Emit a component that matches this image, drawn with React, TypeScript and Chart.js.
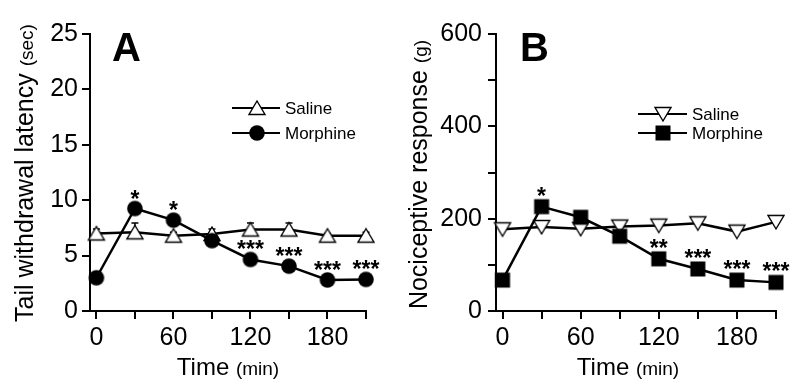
import React, { useEffect, useRef } from 'react';
import { Chart, registerables } from 'chart.js';

Chart.register(...registerables);

const FF = '"Liberation Sans", Arial, Helvetica, sans-serif';

// ---- data ----
const times = [0, 30, 60, 90, 120, 150, 180, 210];
const xTickValues = [0, 30, 60, 90, 120, 150, 180, 210];
const xTickLabels = ['0', '', '60', '', '120', '', '180', ''];
const seriesNames = ['Saline', 'Morphine'];

const latencySaline = [7.0, 7.1, 6.8, 6.95, 7.35, 7.35, 6.8, 6.8];
const latencySalineSem = [0.4, 0.85, 0.3, 0.45, 0.6, 0.6, 0.2, 0.3];
const latencyMorphine = [3.0, 9.25, 8.2, 6.35, 4.65, 4.05, 2.8, 2.85];
const latencySig = ['', '*', '*', '', '***', '***', '***', '***'];
const latencyYTicks = [0, 5, 10, 15, 20, 25];
const latencyYLabels = ['0', '5', '10', '15', '20', '25'];

const responseSaline = [177, 182, 178, 183, 185, 190, 172, 193];
const responseMorphine = [67, 226, 203, 162, 113, 91, 67, 62];
const responseSig = ['', '*', '', '', '**', '***', '***', '***'];
const responseYTicks = [0, 100, 200, 300, 400, 500, 600];
const responseYLabels = ['0', '', '200', '', '400', '', '600'];

type SymKind = 'triUp' | 'triDown' | 'circle' | 'square';

function makeSymbol(kind: SymKind): HTMLCanvasElement {
  const s = 22;
  const c = document.createElement('canvas');
  c.width = s;
  c.height = s;
  const ctx = c.getContext('2d')!;
  const m = s / 2;
  ctx.strokeStyle = '#000';
  ctx.lineWidth = 1.4;
  ctx.lineJoin = 'miter';
  if (kind === 'triUp') {
    ctx.beginPath();
    ctx.moveTo(m, m - 7);
    ctx.lineTo(m + 8, m + 6.5);
    ctx.lineTo(m - 8, m + 6.5);
    ctx.closePath();
    ctx.fillStyle = '#fff';
    ctx.fill();
    ctx.stroke();
  } else if (kind === 'triDown') {
    ctx.beginPath();
    ctx.moveTo(m, m + 7);
    ctx.lineTo(m + 8, m - 6.5);
    ctx.lineTo(m - 8, m - 6.5);
    ctx.closePath();
    ctx.fillStyle = '#fff';
    ctx.fill();
    ctx.stroke();
  } else if (kind === 'circle') {
    ctx.beginPath();
    ctx.arc(m, m, 7.8, 0, Math.PI * 2);
    ctx.fillStyle = '#000';
    ctx.fill();
  } else {
    ctx.fillStyle = '#000';
    ctx.fillRect(m - 7.5, m - 7.5, 15, 15);
  }
  return c;
}

interface PanelCfg {
  letter: string;
  letterX: number;
  yMin: number;
  yMax: number;
  yTicks: number[];
  yLabels: string[];
  saline: number[];
  salineSem?: number[];
  morphine: number[];
  sig: string[];
  sigOffset: number;
  salineSym: SymKind;
  morphineSym: SymKind;
  chartLeft: number;
  padRight: number;
  yLabelPad: number;
  yTitleMain: string;
  yTitleSmall: string;
  yTitleX: number;
  yTitleCY: number;
  xTitleCX: number;
  legendLine: [number, number];
  legendSymX: number;
  legendTextX: number;
  legendY: [number, number];
}

const panelA: PanelCfg = {
  letter: 'A',
  letterX: 112,
  yMin: 0,
  yMax: 25,
  yTicks: latencyYTicks,
  yLabels: latencyYLabels,
  saline: latencySaline,
  salineSem: latencySalineSem,
  morphine: latencyMorphine,
  sig: latencySig,
  sigOffset: 15,
  salineSym: 'triUp',
  morphineSym: 'circle',
  chartLeft: 90,
  padRight: 34,
  yLabelPad: 4,
  yTitleMain: 'Tail withdrawal latency ',
  yTitleSmall: '(sec)',
  yTitleX: 33,
  yTitleCY: 173,
  xTitleCX: 228,
  legendLine: [232, 280],
  legendSymX: 256.5,
  legendTextX: 285,
  legendY: [108, 133],
};

const panelB: PanelCfg = {
  letter: 'B',
  letterX: 120,
  yMin: 0,
  yMax: 600,
  yTicks: responseYTicks,
  yLabels: responseYLabels,
  saline: responseSaline,
  morphine: responseMorphine,
  sig: responseSig,
  sigOffset: 16,
  salineSym: 'triDown',
  morphineSym: 'square',
  chartLeft: 96,
  padRight: 24,
  yLabelPad: 6,
  yTitleMain: 'Nociceptive response ',
  yTitleSmall: '(g)',
  yTitleX: 27,
  yTitleCY: 174.5,
  xTitleCX: 228,
  legendLine: [238, 287],
  legendSymX: 262.5,
  legendTextX: 292,
  legendY: [114, 133],
};

function Panel({ cfg }: { cfg: PanelCfg }) {
  const ref = useRef<HTMLCanvasElement | null>(null);

  useEffect(() => {
    if (!ref.current) return;
    const salineImg = makeSymbol(cfg.salineSym);
    const morphImg = makeSymbol(cfg.morphineSym);

    const decor = {
      id: 'panelDecor',
      beforeDatasetsDraw(chart: any) {
        if (!cfg.salineSem) return;
        const { x, y } = chart.scales;
        const ctx = chart.ctx as CanvasRenderingContext2D;
        ctx.save();
        ctx.strokeStyle = '#000';
        ctx.lineWidth = 1.5;
        cfg.salineSem.forEach((e, i) => {
          const px = x.getPixelForValue(times[i]);
          const top = y.getPixelForValue(cfg.saline[i] + e);
          const mid = y.getPixelForValue(cfg.saline[i]);
          ctx.beginPath();
          ctx.moveTo(px, top);
          ctx.lineTo(px, mid);
          ctx.moveTo(px - 3.5, top);
          ctx.lineTo(px + 3.5, top);
          ctx.stroke();
        });
        ctx.restore();
      },
      afterDatasetsDraw(chart: any) {
        const { x, y } = chart.scales;
        const ctx = chart.ctx as CanvasRenderingContext2D;
        ctx.save();
        ctx.fillStyle = '#000';
        ctx.font = `bold 23px ${FF}`;
        ctx.textAlign = 'center';
        ctx.textBaseline = 'alphabetic';
        cfg.sig.forEach((s, i) => {
          if (!s) return;
          const px = x.getPixelForValue(times[i]);
          const py = y.getPixelForValue(cfg.morphine[i]);
          ctx.fillText(s, px, py - cfg.sigOffset + 13);
        });
        ctx.restore();
      },
      afterDraw(chart: any) {
        const ctx = chart.ctx as CanvasRenderingContext2D;
        ctx.save();
        ctx.fillStyle = '#000';
        // panel letter
        ctx.font = `bold 40px ${FF}`;
        ctx.textAlign = 'left';
        ctx.textBaseline = 'alphabetic';
        ctx.fillText(cfg.letter, cfg.letterX, 61);

        // y title
        ctx.save();
        ctx.translate(cfg.yTitleX, cfg.yTitleCY);
        ctx.rotate(-Math.PI / 2);
        ctx.font = `25px ${FF}`;
        const w1 = ctx.measureText(cfg.yTitleMain).width;
        ctx.font = `19px ${FF}`;
        const w2 = ctx.measureText(cfg.yTitleSmall).width;
        const sx = -(w1 + w2) / 2;
        ctx.font = `25px ${FF}`;
        ctx.fillText(cfg.yTitleMain, sx, 0);
        ctx.font = `19px ${FF}`;
        ctx.fillText(cfg.yTitleSmall, sx + w1, 0);
        ctx.restore();

        // x title
        ctx.font = `24px ${FF}`;
        const t1 = 'Time ';
        const tw1 = ctx.measureText(t1).width;
        ctx.font = `19px ${FF}`;
        const t2 = '(min)';
        const tw2 = ctx.measureText(t2).width;
        const tx = cfg.xTitleCX - (tw1 + tw2) / 2;
        ctx.font = `24px ${FF}`;
        ctx.fillText(t1, tx, 375);
        ctx.font = `19px ${FF}`;
        ctx.fillText(t2, tx + tw1, 375);

        // legend
        const syms = [salineImg, morphImg];
        seriesNames.forEach((name, i) => {
          const ly = cfg.legendY[i];
          ctx.strokeStyle = '#000';
          ctx.lineWidth = 2;
          ctx.beginPath();
          ctx.moveTo(cfg.legendLine[0], ly);
          ctx.lineTo(cfg.legendLine[1], ly);
          ctx.stroke();
          const img = syms[i];
          ctx.drawImage(img, Math.round(cfg.legendSymX - img.width / 2), Math.round(ly - img.height / 2));
          ctx.font = `17px ${FF}`;
          ctx.textBaseline = 'middle';
          ctx.fillText(name, cfg.legendTextX, ly + 1);
          ctx.textBaseline = 'alphabetic';
        });
        ctx.restore();
      },
    };

    const axisCommon = {
      grid: {
        display: true,
        drawOnChartArea: false,
        drawTicks: true,
        tickLength: 8,
        color: '#000',
        lineWidth: 2,
      },
      border: { display: true, color: '#000', width: 2 },
    };

    const chart = new Chart(ref.current, {
      type: 'line',
      data: {
        datasets: [
          {
            label: seriesNames[1],
            data: times.map((t, i) => ({ x: t, y: cfg.morphine[i] })),
            borderColor: '#000',
            borderWidth: 2.5,
            pointStyle: morphImg as any,
            pointRadius: 8,
            tension: 0,
            fill: false,
            clip: false as any,
          },
          {
            label: seriesNames[0],
            data: times.map((t, i) => ({ x: t, y: cfg.saline[i] })),
            borderColor: '#000',
            borderWidth: 2.5,
            pointStyle: salineImg as any,
            pointRadius: 8,
            tension: 0,
            fill: false,
            clip: false as any,
          },
        ],
      },
      options: {
        responsive: false,
        animation: false,
        devicePixelRatio: 1,
        events: [],
        layout: { padding: { left: 0, top: 34, right: cfg.padRight, bottom: 0 } },
        plugins: { legend: { display: false }, tooltip: { enabled: false }, title: { display: false } },
        scales: {
          x: {
            type: 'linear',
            min: -5,
            max: 210,
            ...axisCommon,
            afterBuildTicks: (s: any) => {
              s.ticks = xTickValues.map((v) => ({ value: v }));
            },
            afterFit: (s: any) => {
              s.height = 80;
            },
            ticks: {
              autoSkip: false,
              maxRotation: 0,
              padding: 4,
              color: '#000',
              font: { family: FF, size: 25 },
              callback: (v: any) => {
                const i = xTickValues.indexOf(Number(v));
                return i >= 0 ? xTickLabels[i] : '';
              },
            },
          },
          y: {
            type: 'linear',
            min: cfg.yMin,
            max: cfg.yMax,
            ...axisCommon,
            afterBuildTicks: (s: any) => {
              s.ticks = cfg.yTicks.map((v) => ({ value: v }));
            },
            afterFit: (s: any) => {
              s.width = cfg.chartLeft;
            },
            ticks: {
              autoSkip: false,
              padding: cfg.yLabelPad,
              color: '#000',
              font: { family: FF, size: 25 },
              callback: (v: any) => {
                const i = cfg.yTicks.indexOf(Number(v));
                return i >= 0 ? cfg.yLabels[i] : '';
              },
            },
          },
        },
      } as any,
      plugins: [decor],
    });
    return () => chart.destroy();
  }, [cfg]);

  return <canvas ref={ref} width={400} height={391} style={{ display: 'block', width: 400, height: 391 }} />;
}

export default function App() {
  return (
    <div
      style={{
        position: 'fixed',
        left: 0,
        top: 0,
        width: 800,
        height: 391,
        background: '#fff',
        display: 'flex',
        flexDirection: 'row',
      }}
    >
      <Panel cfg={panelA} />
      <Panel cfg={panelB} />
    </div>
  );
}
